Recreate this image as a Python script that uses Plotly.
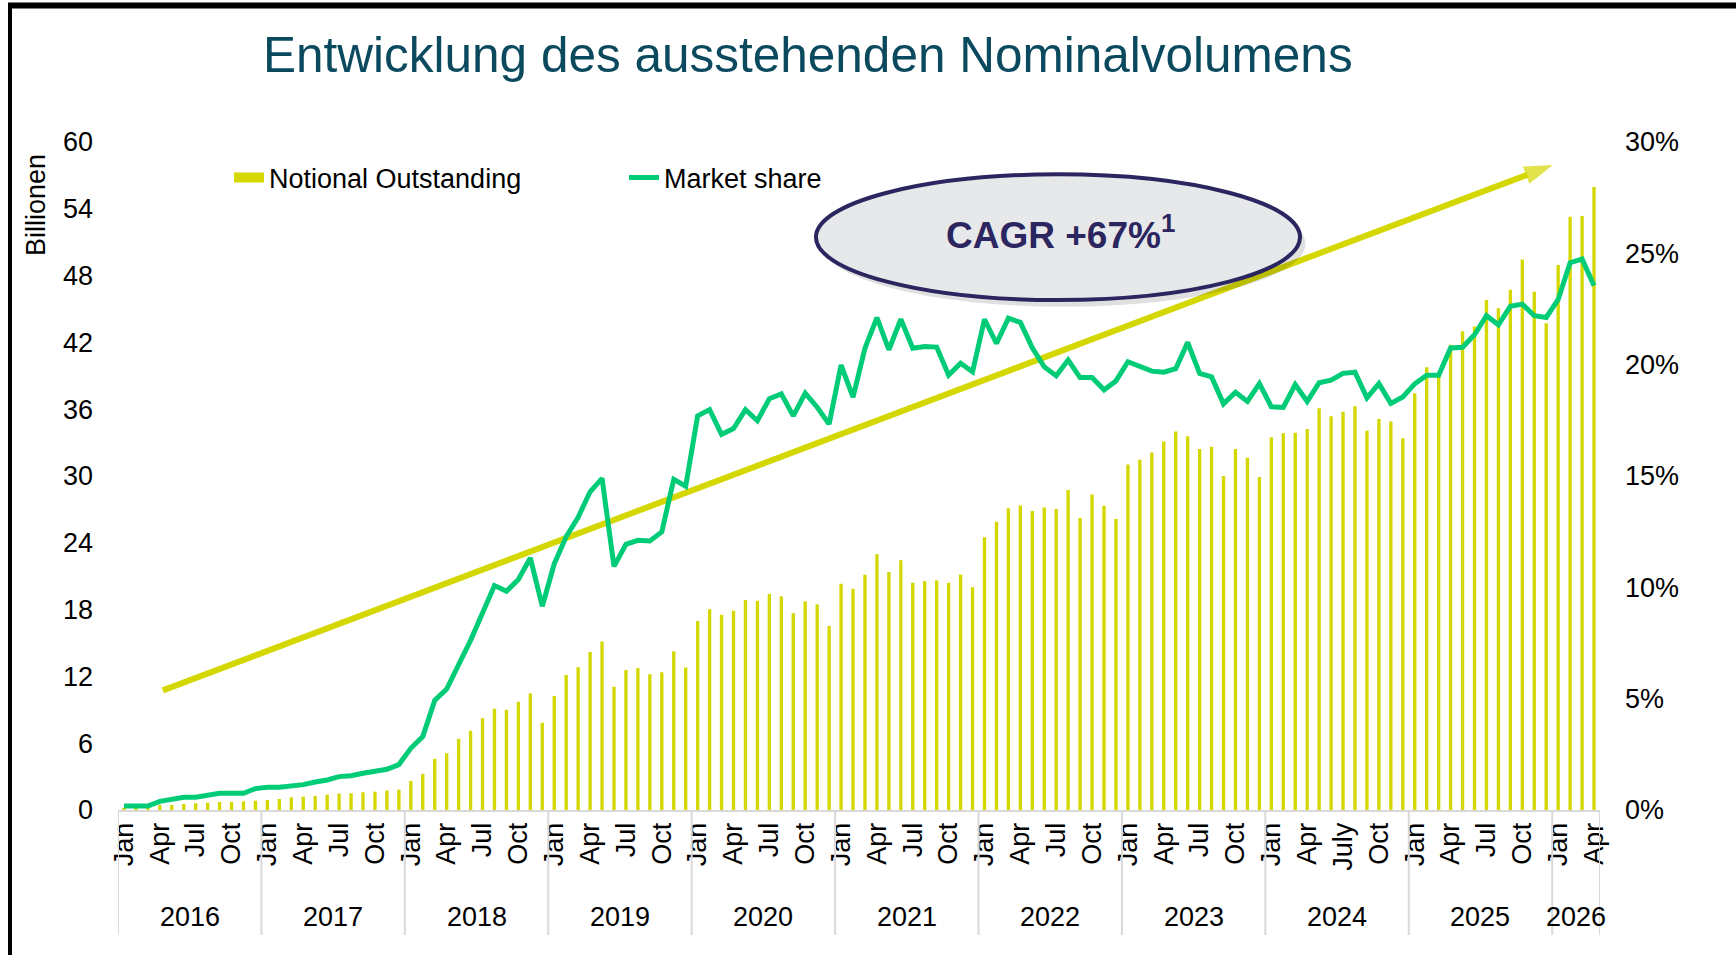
import plotly.graph_objects as go

# ---------------- data ----------------
years = [2016, 2017, 2018, 2019, 2020, 2021, 2022, 2023, 2024, 2025, 2026]
months_per_year = [12, 12, 12, 12, 12, 12, 12, 12, 12, 12, 4]
month_tick_labels = {0: "Jan", 3: "Apr", 6: "Jul", 9: "Oct"}
special_tick_labels = {(2024, 6): "July"}

notional_outstanding = [
    0.15, 0.25, 0.35, 0.45, 0.45, 0.54, 0.60, 0.66, 0.72, 0.72, 0.78, 0.84,
    0.90, 0.99, 1.14, 1.20, 1.26, 1.38, 1.47, 1.50, 1.59, 1.65, 1.74, 1.83,
    2.61, 3.24, 4.59, 5.10, 6.39, 7.11, 8.25, 9.09, 9.00, 9.72, 10.47, 7.83,
    10.25, 12.13, 12.83, 14.19, 15.13, 11.07, 12.58, 12.74, 12.19, 12.37, 14.25, 12.80,
    16.98, 18.04, 17.53, 17.89, 18.86, 18.80, 19.41, 19.19, 17.68, 18.74, 18.47, 16.53,
    20.32, 19.86, 21.13, 22.98, 21.38, 22.44, 20.41, 20.56, 20.62, 20.41, 21.16, 20.01,
    24.49, 25.90, 27.10, 27.36, 26.85, 27.17, 27.04, 28.74, 26.22, 28.33, 27.32, 26.13,
    31.04, 31.45, 32.11, 33.09, 34.00, 33.56, 32.43, 32.62, 30.00, 32.43, 31.64, 29.91,
    33.47, 33.85, 33.88, 34.23, 36.09, 35.36, 35.77, 36.27, 34.07, 35.11, 34.90, 33.38,
    37.43, 39.77, 39.00, 41.80, 43.00, 43.42, 45.81, 45.07, 46.72, 49.44, 46.55, 43.71,
    48.95, 53.28, 53.36, 55.96,
]

market_share_pct = [
    0.18, 0.18, 0.18, 0.39, 0.48, 0.57, 0.57, 0.66, 0.75, 0.75, 0.75, 0.96,
    1.02, 1.02, 1.08, 1.14, 1.26, 1.35, 1.50, 1.54, 1.65, 1.74, 1.83, 2.04,
    2.77, 3.30, 4.92, 5.43, 6.52, 7.62, 8.85, 10.08, 9.82, 10.35, 11.32, 9.15,
    11.05, 12.28, 13.15, 14.29, 14.89, 10.94, 11.93, 12.11, 12.08, 12.49, 14.85, 14.54,
    17.70, 17.98, 16.87, 17.13, 17.98, 17.48, 18.47, 18.69, 17.70, 18.72, 18.09, 17.33,
    19.98, 18.54, 20.74, 22.11, 20.67, 22.04, 20.74, 20.82, 20.79, 19.53, 20.06, 19.68,
    22.04, 20.95, 22.09, 21.90, 20.76, 19.90, 19.50, 20.21, 19.42, 19.42, 18.87, 19.27,
    20.13, 19.93, 19.71, 19.66, 19.82, 21.00, 19.61, 19.45, 18.24, 18.76, 18.35, 19.15,
    18.11, 18.08, 19.11, 18.35, 19.19, 19.30, 19.61, 19.66, 18.51, 19.15, 18.26, 18.55,
    19.14, 19.52, 19.52, 20.75, 20.78, 21.34, 22.20, 21.79, 22.62, 22.72, 22.20, 22.12,
    22.93, 24.58, 24.74, 23.55,
]

title_text = "Entwicklung des ausstehenden Nominalvolumens"
cagr_text = "<b>CAGR +67%<sup>1</sup></b>"
trend_x = [3.25, 119.55]     # month index
trend_y = [10.74, 57.93]     # Billionen
cagr_ellipse = dict(x0=57.9, x1=98.4, y0=45.8, y1=57.1)

# ---------------- derived positions ----------------
x_idx = list(range(len(notional_outstanding)))
tickvals, ticktext = [], []
year_centers, year_bounds = [], [-0.5]
pos = 0
for yr, n in zip(years, months_per_year):
    for m in range(n):
        lab = special_tick_labels.get((yr, m), month_tick_labels.get(m))
        if lab:
            tickvals.append(pos + m)
            ticktext.append(lab)
    year_centers.append(pos + (n - 1) / 2)
    pos += n
    year_bounds.append(pos - 0.5)

FONT = "Arial, Liberation Sans, sans-serif"
BAR_C = "#D4D700"
LINE_C = "#00CC78"
NAVY = "#2B2560"

fig = go.Figure()
fig.add_trace(go.Bar(x=x_idx, y=notional_outstanding, marker=dict(color=BAR_C, line=dict(width=0)),
                     name="Notional Outstanding", showlegend=False, yaxis="y"))
# legend swatch for bars (wide bar-like swatch)
fig.add_trace(go.Scatter(x=[None], y=[None], mode="lines", line=dict(color=BAR_C, width=13),
                         name="Notional Outstanding", yaxis="y"))
fig.add_trace(go.Scatter(x=x_idx, y=market_share_pct, mode="lines",
                         line=dict(color=LINE_C, width=5), name="Market share", yaxis="y2"))
# CAGR trend arrow
fig.add_trace(go.Scatter(x=trend_x, y=trend_y, mode="lines+markers", yaxis="y", showlegend=False,
                         hoverinfo="skip", line=dict(color=BAR_C, width=6),
                         marker=dict(symbol="arrow", size=[0, 30], angleref="previous", color=BAR_C,
                                     line=dict(width=0))))

W, H = 1736, 955
ml, mr, mt, mb = 118, 136, 142, 145
pw, ph = W - ml - mr, H - mt - mb

def px_x(px):
    return (px - ml) / pw

def px_y(py):
    return (H - mb - py) / ph

shapes = []
for b in year_bounds:
    shapes.append(dict(type="line", xref="x", yref="paper", x0=b, x1=b, y0=0, y1=px_y(935),
                       line=dict(color="#D9D9D9", width=2)))
shapes.append(dict(type="circle", xref="x", yref="y", layer="above",
                   x0=cagr_ellipse["x0"] + 0.45, x1=cagr_ellipse["x1"] + 0.45,
                   y0=cagr_ellipse["y0"] - 0.6, y1=cagr_ellipse["y1"] - 0.6,
                   fillcolor="rgba(0,0,0,0.12)", line=dict(width=0)))
shapes.append(dict(type="circle", xref="x", yref="y", layer="above", **cagr_ellipse,
                   fillcolor="#E7E8E9", line=dict(color=NAVY, width=4)))
shapes.append(dict(type="line", xref="paper", yref="paper", x0=px_x(8), x1=px_x(W), y0=px_y(5.5), y1=px_y(5.5),
                   line=dict(color="black", width=6)))
shapes.append(dict(type="line", xref="paper", yref="paper", x0=px_x(10), x1=px_x(10), y0=px_y(3), y1=px_y(H),
                   line=dict(color="black", width=4)))

annotations = []
for yr, c in zip(years, year_centers):
    annotations.append(dict(x=c, y=px_y(917), xref="x", yref="paper", text=str(yr), showarrow=False,
                            xanchor="center", yanchor="middle", font=dict(size=27, color="black", family=FONT)))
annotations.append(dict(x=px_x(36), y=px_y(205), xref="paper", yref="paper", text="Billionen", textangle=-90,
                        showarrow=False, xanchor="center", yanchor="middle",
                        font=dict(size=27, color="black", family=FONT)))
annotations.append(dict(x=(cagr_ellipse["x0"] + cagr_ellipse["x1"]) / 2 + 0.2,
                        y=(cagr_ellipse["y0"] + cagr_ellipse["y1"]) / 2 + 0.4,
                        xref="x", yref="y", text=cagr_text, showarrow=False,
                        font=dict(size=37, color=NAVY, family=FONT)))

fig.update_layout(
    width=W, height=H,
    margin=dict(l=ml, r=mr, t=mt, b=mb, autoexpand=False),
    paper_bgcolor="white", plot_bgcolor="white",
    font=dict(family=FONT, color="black", size=27),
    title=dict(text=title_text, x=263 / W, xanchor="left", y=1 - 55 / H, yanchor="middle",
               font=dict(size=49.5, color="#0B4A5E", family=FONT)),
    bargap=0.72,
    xaxis=dict(range=[-0.5, len(x_idx) - 0.5], tickmode="array", tickvals=tickvals, ticktext=ticktext,
               tickangle=-90, showgrid=False, zeroline=False, showline=True, linecolor="#D9D9D9",
               linewidth=2, ticks="", tickfont=dict(size=27, family=FONT, color="black")),
    yaxis=dict(range=[0, 60], dtick=6, showgrid=False, zeroline=False, showline=False, ticks="",
               ticklabelstandoff=24, tickfont=dict(size=27, family=FONT, color="black")),
    yaxis2=dict(range=[0, 30], dtick=5, ticksuffix="%", overlaying="y", side="right", showgrid=False,
                zeroline=False, showline=False, ticks="", ticklabelstandoff=24,
                tickfont=dict(size=27, family=FONT, color="black")),
    legend=dict(orientation="h", x=px_x(229), y=px_y(178), xanchor="left", yanchor="middle",
                font=dict(size=27, family=FONT, color="black"), bgcolor="rgba(0,0,0,0)",
                entrywidth=350, entrywidthmode="pixels", traceorder="normal"),
    shapes=shapes,
    annotations=annotations,
)

fig.write_html("out.html", config={"displayModeBar": False},
               post_script="document.body.style.margin='0px';document.body.style.overflow='hidden';")
